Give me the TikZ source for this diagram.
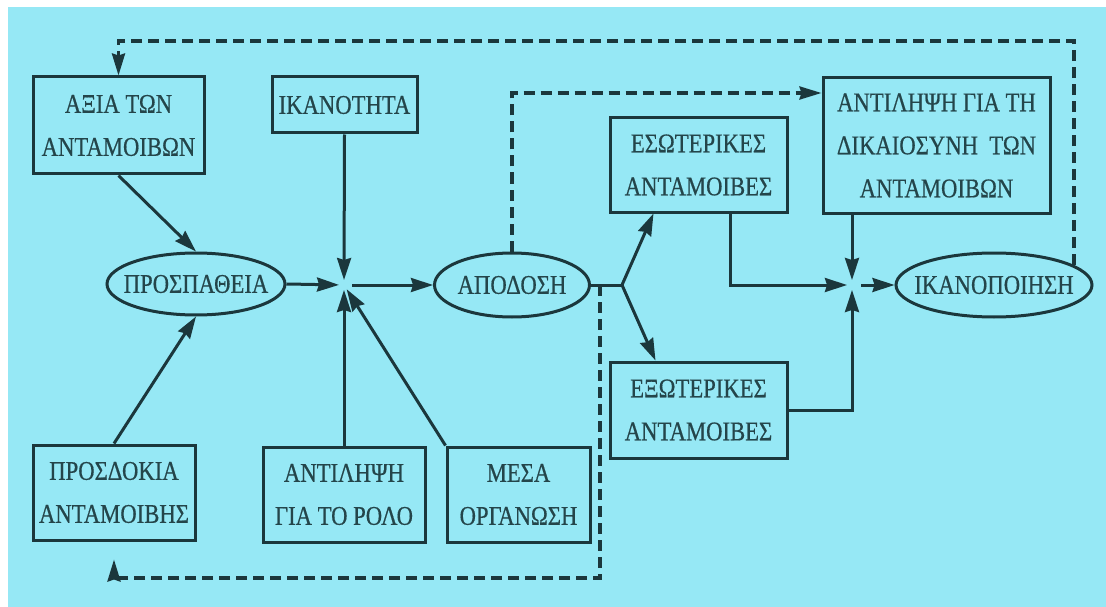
\documentclass[tikz,border=0pt]{standalone}
\usepackage{fontspec}
\setmainfont[FakeStretch=0.84,FakeBold=0.5]{Liberation Serif}
\usetikzlibrary{arrows.meta,shapes.geometric,calc}
\definecolor{bgcyan}{HTML}{96E8F5}
\definecolor{ink}{HTML}{1B373C}
\definecolor{txt}{HTML}{24454A}
\tikzset{
  box/.style={draw=ink, line width=3pt, rectangle, inner sep=0pt, text=txt, align=center, font=\fontsize{27}{43}\selectfont},
  oval/.style={draw=ink, line width=3pt, ellipse, inner sep=0pt, text=txt, font=\fontsize{27}{30}\selectfont},
  arr/.style={draw=ink, line width=3pt, -{Stealth[length=22pt,width=14pt,inset=2pt]}},
  ln/.style={draw=ink, line width=3pt},
  dasharr/.style={draw=ink, line width=3.2pt, dash pattern=on 11pt off 6pt, -{Stealth[length=22pt,width=13pt,inset=2pt]}}
}
\begin{document}
\begin{tikzpicture}[x=1pt,y=-1pt]
\useasboundingbox (0,0) rectangle (1106,607);
\fill[white] (0,0) rectangle (1106,607);
\fill[bgcyan] (8,7) rectangle (1106,607);

% boxes
\node[box, minimum width=171, minimum height=97] (axia) at (118.5,125.5) {ΑΞΙΑ ΤΩΝ\\ΑΝΤΑΜΟΙΒΩΝ};
\node[box, minimum width=145, minimum height=56] (ikan) at (344.5,105) {ΙΚΑΝΟΤΗΤΑ};
\node[box, minimum width=162, minimum height=95] (prosd) at (114,492.5) {ΠΡΟΣΔΟΚΙΑ\\ΑΝΤΑΜΟΙΒΗΣ};
\node[box, minimum width=162, minimum height=95] (rolo) at (344,494.5) {ΑΝΤΙΛΗΨΗ\\ΓΙΑ ΤΟ ΡΟΛΟ};
\node[box, minimum width=143, minimum height=95] (mesa) at (518.5,494.5) {ΜΕΣΑ\\ΟΡΓΑΝΩΣΗ};
\node[box, minimum width=177, minimum height=94] (esot) at (698.5,165) {ΕΣΩΤΕΡΙΚΕΣ\\ΑΝΤΑΜΟΙΒΕΣ};
\node[box, minimum width=177, minimum height=96] (exot) at (698.5,410) {ΕΞΩΤΕΡΙΚΕΣ\\ΑΝΤΑΜΟΙΒΕΣ};
\node[box, minimum width=227, minimum height=135] (dikaio) at (936.5,145.5) {ΑΝΤΙΛΗΨΗ ΓΙΑ ΤΗ\\ΔΙΚΑΙΟΣΥΝΗ~ ΤΩΝ\\ΑΝΤΑΜΟΙΒΩΝ};

% ellipses
\node[oval, minimum width=178, minimum height=62] (prosp) at (196,284) {\makebox[0pt]{ΠΡΟΣΠΑΘΕΙΑ}};
\node[oval, minimum width=155, minimum height=64] (apod) at (512,285) {\makebox[0pt]{ΑΠΟΔΟΣΗ}};
\node[oval, minimum width=196, minimum height=64] (ikanop) at (994,285) {\makebox[0pt]{ΙΚΑΝΟΠΟΙΗΣΗ}};

% junctions
\coordinate (J1) at (344,285);
\coordinate (J2) at (852,285);
\coordinate (F) at (622,285);
\coordinate (D0) at (600,285);
\coordinate (yTop) at (0,41);
\coordinate (yMid) at (0,93);
\coordinate (yBot) at (0,578);

% solid connectors
\draw[arr] (axia.south) -- (prosp.north);
\draw[arr] (prosd.north) -- (prosp.south);
\draw[arr, shorten >=5pt] (prosp.east) -- (J1);
\draw[arr, shorten >=5pt] (ikan.south) -- (J1);
\draw[arr, shorten >=5pt] (rolo.north) -- (J1);
\draw[arr, shorten >=5pt] (mesa.north west) -- (J1);
\draw[arr, shorten <=8pt] (J1) -- (apod.west);
\draw[ln] (apod.east) -- (F);
\draw[arr] (F) -- ([xshift=45pt]esot.south west);
\draw[arr] (F) -- ([xshift=47pt]exot.north west);
\draw[arr, shorten >=5pt] ([xshift=32pt]esot.south) |- (J2);
\draw[arr, shorten >=5pt] (exot.east) -| (J2);
\draw[arr, shorten >=5pt] (dikaio.south -| J2) -- (J2);
\draw[arr, shorten <=9pt] (J2) -- (ikanop.west);

% dashed feedback connectors
\draw[dasharr] (apod.north) |- (dikaio.west |- yMid);
\draw[dasharr] (ikanop.14) |- (axia.north |- yTop) -- (axia.north);
\draw[dasharr, shorten >=18pt] (D0) |- (prosd.south |- yBot) -- (prosd.south);
\end{tikzpicture}
\end{document}
